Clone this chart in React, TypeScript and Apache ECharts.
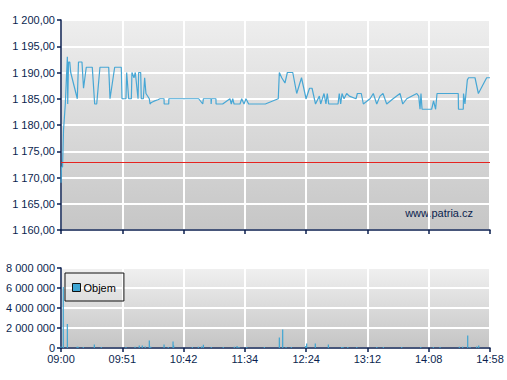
import React, { useEffect, useRef } from "react";
import * as echarts from "echarts";

// x values: minutes after 09:00
const timeLabels = ["09:00", "09:51", "10:42", "11:34", "12:24", "13:12", "14:08", "14:58"];
const sessionMinutes = 358;

const priceTimes = [
  0, 0.4, 1.3, 2.1, 3.6, 5.3, 5.6, 6.3, 7.3, 8.1, 13.6, 14.6, 17.5, 18.8, 21.1, 26.1, 28.1, 29.8,
  32.5, 39.8, 40.9, 44.8, 50.3, 50.9, 54.2, 54.8, 56.5, 58.7, 59.2, 60.9, 62.0, 64.3, 64.8, 66.5,
  67.0, 68.7, 69.8, 70.9, 73.7, 74.3, 75.4, 78.2, 80.9, 82.6, 86.0, 86.1, 89.9, 90.0, 114.9, 118.3,
  118.8, 125.2, 125.3, 125.6, 129.3, 129.4, 134.9, 141.0, 142.1, 143.3, 144.4, 149.4, 150.8, 152.7,
  154.4, 156.6, 170.5, 181.3, 182.2, 184.2, 186.9, 188.9, 193.4, 196.7, 200.7, 204.5, 207.4, 209.5,
  212.4, 215.6, 216.7, 219.5, 221.1, 222.2, 223.4, 231.2, 232.2, 233.4, 234.5, 236.2, 238.4, 240.6,
  246.2, 247.3, 250.6, 252.3, 257.9, 260.6, 263.5, 266.2, 268.7, 271.8, 277.1, 282.9, 285.2, 288.5,
  296.9, 298.5, 299.6, 300.4, 301.3, 309.3, 310.9, 312.6, 313.8, 318.8, 331.5, 331.7, 335.7, 335.9,
  337.1, 339.1, 340.1, 345.5, 348.3, 355.2, 358,
];
const priceValues = [
  1169, 1172, 1172, 1179, 1184, 1193, 1184, 1192, 1192, 1190, 1185, 1192, 1192, 1187, 1191, 1191, 1184, 1184,
  1191, 1191, 1185, 1191, 1191, 1185, 1185, 1190, 1185, 1185, 1190, 1189, 1190, 1185, 1190, 1190,
  1185, 1185, 1189, 1186, 1185, 1184, 1184.3, 1184.6, 1184.8, 1185, 1185, 1184, 1184, 1185, 1185, 1184,
  1185, 1185, 1184, 1185, 1185, 1184, 1184, 1185, 1184, 1185, 1184, 1184, 1185, 1184,
  1185, 1184, 1184, 1185, 1190, 1189, 1188, 1190, 1190, 1186, 1189, 1185, 1187, 1187,
  1184, 1185.5, 1184, 1186, 1184, 1186, 1184, 1184, 1186, 1184, 1186, 1185, 1186, 1185.5,
  1185, 1186, 1186, 1184, 1185, 1186, 1184, 1185.5, 1186, 1184, 1185, 1186, 1184, 1185,
  1186, 1185.5, 1183, 1186, 1183, 1183, 1184.6, 1183, 1186, 1186, 1186, 1183, 1183, 1186,
  1184, 1188.6, 1189, 1189, 1186, 1189, 1189,
];
const previousClose = 1172.9;

const volumeTimes = [
  0, 1.9, 5.3, 13.4, 14.2, 18.6, 27.8, 33.6, 54.2, 61.8, 65.3, 67.8, 70.3, 73.7, 74.9, 86.0, 89.5,
  93.5, 94.0, 109.6, 114.6, 117.4, 118.8, 125.4, 135.4, 144.6, 146.9, 148.5, 155.0, 169.7, 182.2,
  185.0, 187.8, 192.2, 204.2, 205.0, 212.2, 223.1, 234.2, 235.3, 239.3, 246.8, 263.5, 269.0, 284.3,
  300.2, 310.7, 316.3, 332.4, 335.2, 339.4, 341.3, 346.9, 348.6,
];
const volumeValues = [
  150000, 6100000, 2400000, 120000, 120000, 100000, 350000, 100000, 100000, 120000, 250000, 250000,
  150000, 750000, 120000, 350000, 100000, 650000, 250000, 100000, 120000, 150000, 320000, 100000,
  100000, 120000, 200000, 100000, 100000, 100000, 1050000, 1850000, 100000, 100000, 200000, 450000,
  450000, 350000, 100000, 100000, 100000, 100000, 100000, 100000, 100000, 100000, 100000, 100000,
  120000, 120000, 1250000, 100000, 150000, 250000,
];

const navy = "#0b1f4f";
const lineBlue = "#47a7d5";
const font = "'Liberation Sans', Arial, sans-serif";

function fmtNum(v: number, decimals: number): string {
  const fixed = Math.abs(v).toFixed(decimals);
  const [intPart, decPart] = fixed.split(".");
  const grouped = intPart.replace(/\B(?=(\d{3})+(?!\d))/g, " ");
  return (v < 0 ? "-" : "") + grouped + (decPart ? "," + decPart : "");
}

export default function App() {
  const ref = useRef<HTMLDivElement>(null);
  useEffect(() => {
    if (!ref.current) return;
    const chart = echarts.init(ref.current, undefined, { renderer: "svg" });
    const step = sessionMinutes / 7;
    const bg = (top: string, bottom: string) =>
      new echarts.graphic.LinearGradient(0, 0, 0, 1, [
        { offset: 0, color: top },
        { offset: 1, color: bottom },
      ]);
    const labelText = (v: number) => {
      const i = Math.round(v / step);
      return Math.abs(v - i * step) < 0.5 ? timeLabels[i] ?? "" : "";
    };
    const xAxisBase = {
      type: "value" as const,
      min: 0,
      max: sessionMinutes,
      interval: step,
      axisLine: { show: true, lineStyle: { color: navy, width: 1.5 } },
      axisTick: { show: true, length: 4, lineStyle: { color: navy, width: 1.5 } },
      splitLine: { show: true, lineStyle: { color: "#ffffff", width: 2 } },
    };
    const yLabel = { color: navy, fontSize: 11, fontFamily: font, margin: 6 };
    chart.setOption({
      animation: false,
      textStyle: { fontFamily: font },
      grid: [
        {
          left: 61, right: 17, top: 20, height: 210, show: true,
          backgroundColor: bg("#eeeeee", "#c6c6c6"), borderWidth: 0,
        },
        {
          left: 61, right: 17, top: 268, height: 80, show: true,
          backgroundColor: bg("#f0f0f0", "#c4c4c4"), borderWidth: 0,
        },
      ],
      legend: {
        data: ["Objem"],
        left: 65,
        top: 273,
        orient: "vertical",
        padding: [9, 8, 8, 7],
        itemWidth: 8,
        itemHeight: 8,
        itemGap: 4,
        borderColor: "#111111",
        borderWidth: 1,
        icon: "rect",
        itemStyle: { borderColor: "#111111", borderWidth: 1 },
        textStyle: { color: "#000000", fontSize: 11, fontFamily: font, padding: [0, 0, 0, -2] },
      },
      xAxis: [
        { ...xAxisBase, gridIndex: 0, axisLabel: { show: false } },
        {
          ...xAxisBase, gridIndex: 1,
          axisLabel: { show: true, color: navy, fontSize: 11, fontFamily: font, margin: 5, formatter: labelText },
        },
      ],
      yAxis: [
        {
          type: "value", gridIndex: 0, min: 1160, max: 1200, interval: 5,
          axisLine: { show: true, lineStyle: { color: navy, width: 1.5 } },
          axisTick: { show: true, length: 4, lineStyle: { color: navy, width: 1.5 } },
          splitLine: { show: true, lineStyle: { color: "#ffffff", width: 2 } },
          axisLabel: { ...yLabel, formatter: (v: number) => fmtNum(v, 2) },
        },
        {
          type: "value", gridIndex: 1, min: 0, max: 8000000, interval: 2000000,
          axisLine: { show: true, lineStyle: { color: navy, width: 1.5 } },
          axisTick: { show: true, length: 4, lineStyle: { color: navy, width: 1.5 } },
          splitLine: { show: true, lineStyle: { color: "#ffffff", width: 2 } },
          axisLabel: { ...yLabel, formatter: (v: number) => fmtNum(v, 0) },
        },
      ],
      graphic: [
        {
          type: "text",
          right: 34,
          top: 207,
          style: { text: "www.patria.cz", fill: navy, font: "11px " + font },
        },
      ],
      series: [
        {
          name: "Cena",
          type: "line",
          xAxisIndex: 0,
          yAxisIndex: 0,
          symbol: "none",
          lineStyle: { color: lineBlue, width: 1.2 },
          data: priceTimes.map((t, i) => [t, priceValues[i]]),
          markLine: {
            silent: true,
            symbol: "none",
            label: { show: false },
            lineStyle: { color: "#e52420", width: 1, type: "solid" },
            data: [{ yAxis: previousClose }],
          },
          z: 3,
        },
        {
          name: "Objem",
          type: "bar",
          xAxisIndex: 1,
          yAxisIndex: 1,
          barWidth: 1.2,
          itemStyle: { color: "#3ea5d3" },
          data: volumeTimes.map((t, i) => [t, volumeValues[i]]),
        },
      ],
    });
    return () => chart.dispose();
  }, []);
  return (
    <div
      ref={ref}
      style={{ position: "absolute", left: 0, top: 0, width: 507, height: 380 }}
    />
  );
}
